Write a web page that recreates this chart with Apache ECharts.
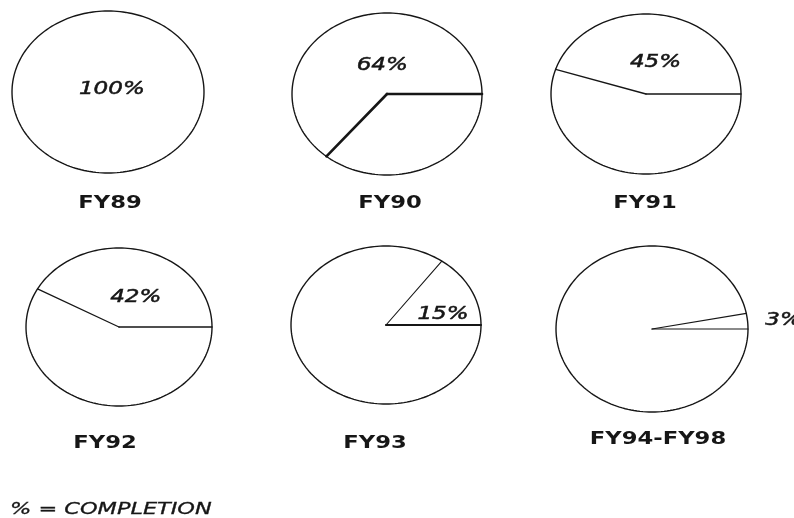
<!DOCTYPE html>
<html>
<head>
<meta charset="utf-8">
<script src="https://cdn.jsdelivr.net/npm/echarts@6/dist/echarts.min.js"></script>
<style>
  html, body { margin: 0; padding: 0; background: #fff; }
  #chart { width: 794px; height: 518px; }
</style>
</head>
<body>
<div id="chart"></div>
<script>
// Fiscal periods and share of work completed in each
const periods = ['FY89', 'FY90', 'FY91', 'FY92', 'FY93', 'FY94-FY98'];
const completion = [100, 64, 45, 42, 15, 3];
const footnote = '% = COMPLETION';

// Layout: pie centres and radii (px), label anchors in unit-circle coords, title positions
const pieCenters = [[108, 92], [387, 94], [646, 94], [119, 327], [386, 325], [652, 329]];
const pieRadii = [[96, 81], [95, 81], [95, 80], [93, 79], [95, 79], [96, 83]];
const labelSpots = [[0.04, 0.03], [-0.05, 0.36], [0.1, 0.4], [0.18, 0.37], [0.6, 0.14], [1.37, 0.1]];
const titleSpots = [[110, 203], [390, 203], [645, 203], [105, 443], [375, 443], [658, 439]];
// stroke widths of the two radii [start edge, end edge]
const spokeWidths = [[0, 0], [2.6, 2.6], [1.4, 1.3], [1.5, 1.3], [2.2, 1.1], [1.2, 1.2]];

const INK = '#161616';

function makeRenderer(i) {
  return function (params, api) {
    const frac = api.value(0) / 100;
    const ring = [];
    const steps = 200;
    for (let k = 0; k <= steps; k++) {
      const a = (k / steps) * Math.PI * 2;
      ring.push(api.coord([Math.cos(a), Math.sin(a)]));
    }
    const children = [{
      type: 'polygon',
      shape: { points: ring },
      style: { fill: '#fff', stroke: INK, lineWidth: 1.4 }
    }];
    if (frac < 1) {
      const c = api.coord([0, 0]);
      const p0 = api.coord([1, 0]);
      const a = frac * Math.PI * 2;
      const p1 = api.coord([Math.cos(a), Math.sin(a)]);
      children.push({
        type: 'line',
        shape: { x1: c[0], y1: c[1], x2: p0[0], y2: p0[1] },
        style: { stroke: INK, lineWidth: spokeWidths[i][0], lineCap: 'round' }
      });
      children.push({
        type: 'line',
        shape: { x1: c[0], y1: c[1], x2: p1[0], y2: p1[1] },
        style: { stroke: INK, lineWidth: spokeWidths[i][1], lineCap: 'round' }
      });
    }
    const lp = api.coord(labelSpots[i]);
    children.push({
      type: 'text',
      x: lp[0], y: lp[1],
      scaleX: 1.28,
      style: {
        text: api.value(0) + '%',
        font: 'italic 18px "DejaVu Sans"',
        fill: INK,
        stroke: INK,
        lineWidth: 0.5,
        align: 'center',
        verticalAlign: 'middle'
      }
    });
    return { type: 'group', children: children };
  };
}

const grids = [], xAxes = [], yAxes = [], series = [];
periods.forEach(function (name, i) {
  const c = pieCenters[i], r = pieRadii[i];
  grids.push({ left: c[0] - r[0], top: c[1] - r[1], width: 2 * r[0], height: 2 * r[1], show: false });
  xAxes.push({ gridIndex: i, type: 'value', min: -1, max: 1, show: false });
  yAxes.push({ gridIndex: i, type: 'value', min: -1, max: 1, show: false });
  series.push({
    type: 'custom',
    name: name,
    xAxisIndex: i,
    yAxisIndex: i,
    clip: false,
    renderItem: makeRenderer(i),
    data: [[completion[i]]]
  });
});

const graphics = periods.map(function (name, i) {
  return {
    type: 'text',
    x: titleSpots[i][0], y: titleSpots[i][1],
    scaleX: 1.26,
    style: {
      text: name,
      font: 'bold 18px "DejaVu Sans"',
      fill: INK,
      align: 'center',
      verticalAlign: 'middle'
    }
  };
});
graphics.push({
  type: 'text',
  x: 10, y: 510,
  scaleX: 1.4,
  style: {
    text: footnote,
    font: 'italic 16px "DejaVu Sans"',
    fill: INK,
    stroke: INK,
    lineWidth: 0.3,
    align: 'left',
    verticalAlign: 'middle'
  }
});

const chart = echarts.init(document.getElementById('chart'), null, { renderer: 'canvas' });
chart.setOption({
  backgroundColor: '#fff',
  animation: false,
  grid: grids,
  xAxis: xAxes,
  yAxis: yAxes,
  series: series,
  graphic: graphics
});
</script>
</body>
</html>
